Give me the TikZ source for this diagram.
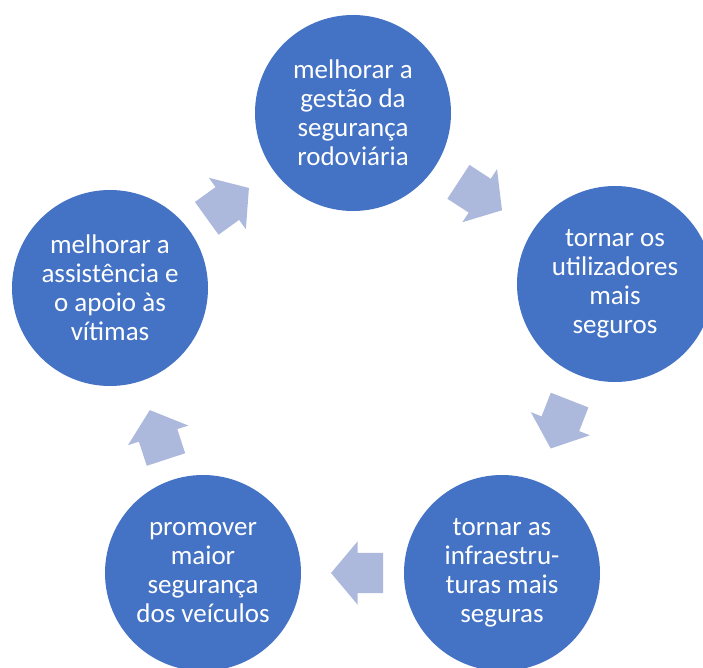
\documentclass[tikz,border=0pt]{standalone}
\usepackage{fontspec}
\setmainfont{Carlito}
\usetikzlibrary{shapes.arrows}
\definecolor{circblue}{HTML}{4472C4}
\definecolor{arrowblue}{HTML}{ADB9DC}

\begin{document}
\begin{tikzpicture}[x=1pt,y=1pt,font=\fontsize{27}{29}\selectfont]
    \tikzstyle{step circle}=[circle,fill=circblue,text=white,minimum size=196,inner sep=0,align=center]
    \tikzstyle{cycle arrow}=[single arrow,fill=arrowblue,minimum height=52,inner xsep=0,inner ysep=20,single arrow head extend=11.5,single arrow tip angle=100,sloped,allow upside down,xshift=-13]
    \useasboundingbox (0,0) rectangle (703,-668);

    \node(gestao)[step circle] at (353,-113) {melhorar a\\gestão da\\segurança\\rodoviária};
    \node(utiliz)[step circle] at (615,-284) {tornar os\\utilizadores\\mais\\seguros};
    \node(infra)[step circle] at (502,-573) {tornar as\\infraestru-\\turas mais\\seguras};
    \node(veic)[step circle] at (203,-573) {promover\\maior\\segurança\\dos veículos};
    \node(vitimas)[step circle] at (110,-288) {melhorar a\\assistência e\\o apoio às\\vítimas};

    \path (gestao) -- (utiliz) node[midway,cycle arrow]{};
    \path (utiliz) -- (infra) node[midway,cycle arrow]{};
    \path (infra) -- (veic) node[midway,cycle arrow]{};
    \path (veic) -- (vitimas) node[midway,cycle arrow]{};
    \path (vitimas) -- (gestao) node[midway,cycle arrow]{};
\end{tikzpicture}
\end{document}
